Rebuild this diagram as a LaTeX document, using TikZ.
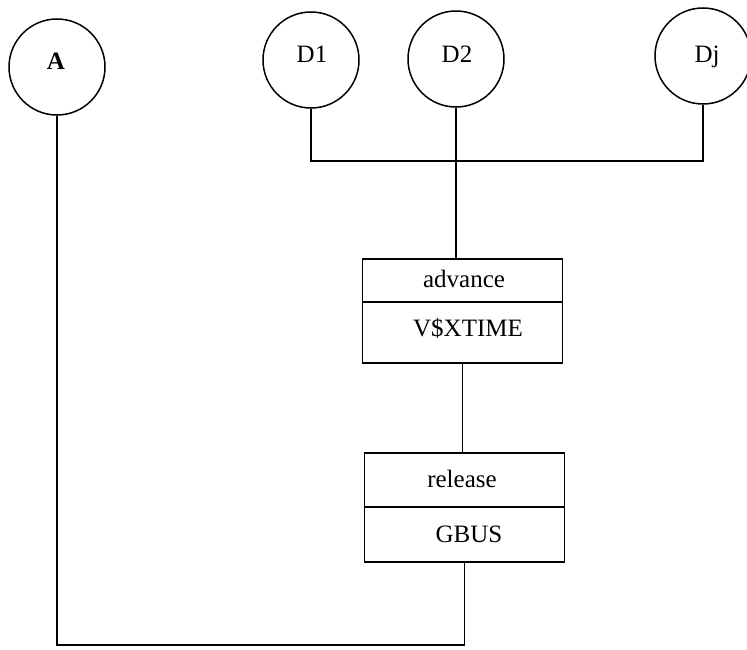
\documentclass[tikz,border=0pt]{standalone}
\usepackage{fontspec}
\setmainfont{Liberation Serif}
\begin{document}
\begin{tikzpicture}[x=1pt,y=-1pt,
  ln/.style={line width=1.5pt},
  circ/.style={circle,draw,line width=1.5pt,minimum size=96pt,inner sep=0pt},
  boxnode/.style={rectangle,draw,line width=1.5pt,inner sep=0pt,minimum width=200pt},
  lbl/.style={anchor=base,inner sep=0pt,font=\fontsize{25}{30}\selectfont}]
\useasboundingbox (0,0) rectangle (747,650);
% circles
\node[circ] (A) at (57,67) {};
\node[circ] (D1) at (311,60) {};
\node[circ] (D2) at (456,59) {};
\node[circ] (Dj) at (703,56) {};
\node[lbl,font=\fontsize{25}{30}\selectfont\bfseries] (tA) at (56,70) {A};
\node[lbl] (tD1) at (312,63) {D1};
\node[lbl] (tD2) at (457,63) {D2};
\node[lbl] (tDj) at (707,63) {Dj};
% boxes
\node[boxnode,minimum height=104pt] (B1) at (462.5,311) {};
\node[boxnode,minimum height=109pt] (B2) at (464.5,507.5) {};
\coordinate (d1) at (0,302);
\coordinate (d2) at (0,507);
\draw[ln] (B1.west |- d1) -- (B1.east |- d1);
\draw[ln] (B2.west |- d2) -- (B2.east |- d2);
\node[lbl] (t1) at (464,287) {advance};
\node[lbl] (t2) at (468,336) {V\$XTIME};
\node[lbl] (t3) at (462,487) {release};
\node[lbl] (t4) at (469,542) {GBUS};
% connectors
\coordinate (bus) at (0,161);
\draw[ln] (D1.south) -- (D1.south |- bus) -- (Dj.south |- bus) -- (Dj.south);
\draw[ln] (D2.south) -- (D2.south |- B1.north);
\draw[ln] (B1.south) -- (B1.south |- B2.north);
\coordinate (bot) at (0,645);
\draw[ln] (A.south) -- (A.south |- bot) -- (B2.south |- bot) -- (B2.south);
\end{tikzpicture}
\end{document}
